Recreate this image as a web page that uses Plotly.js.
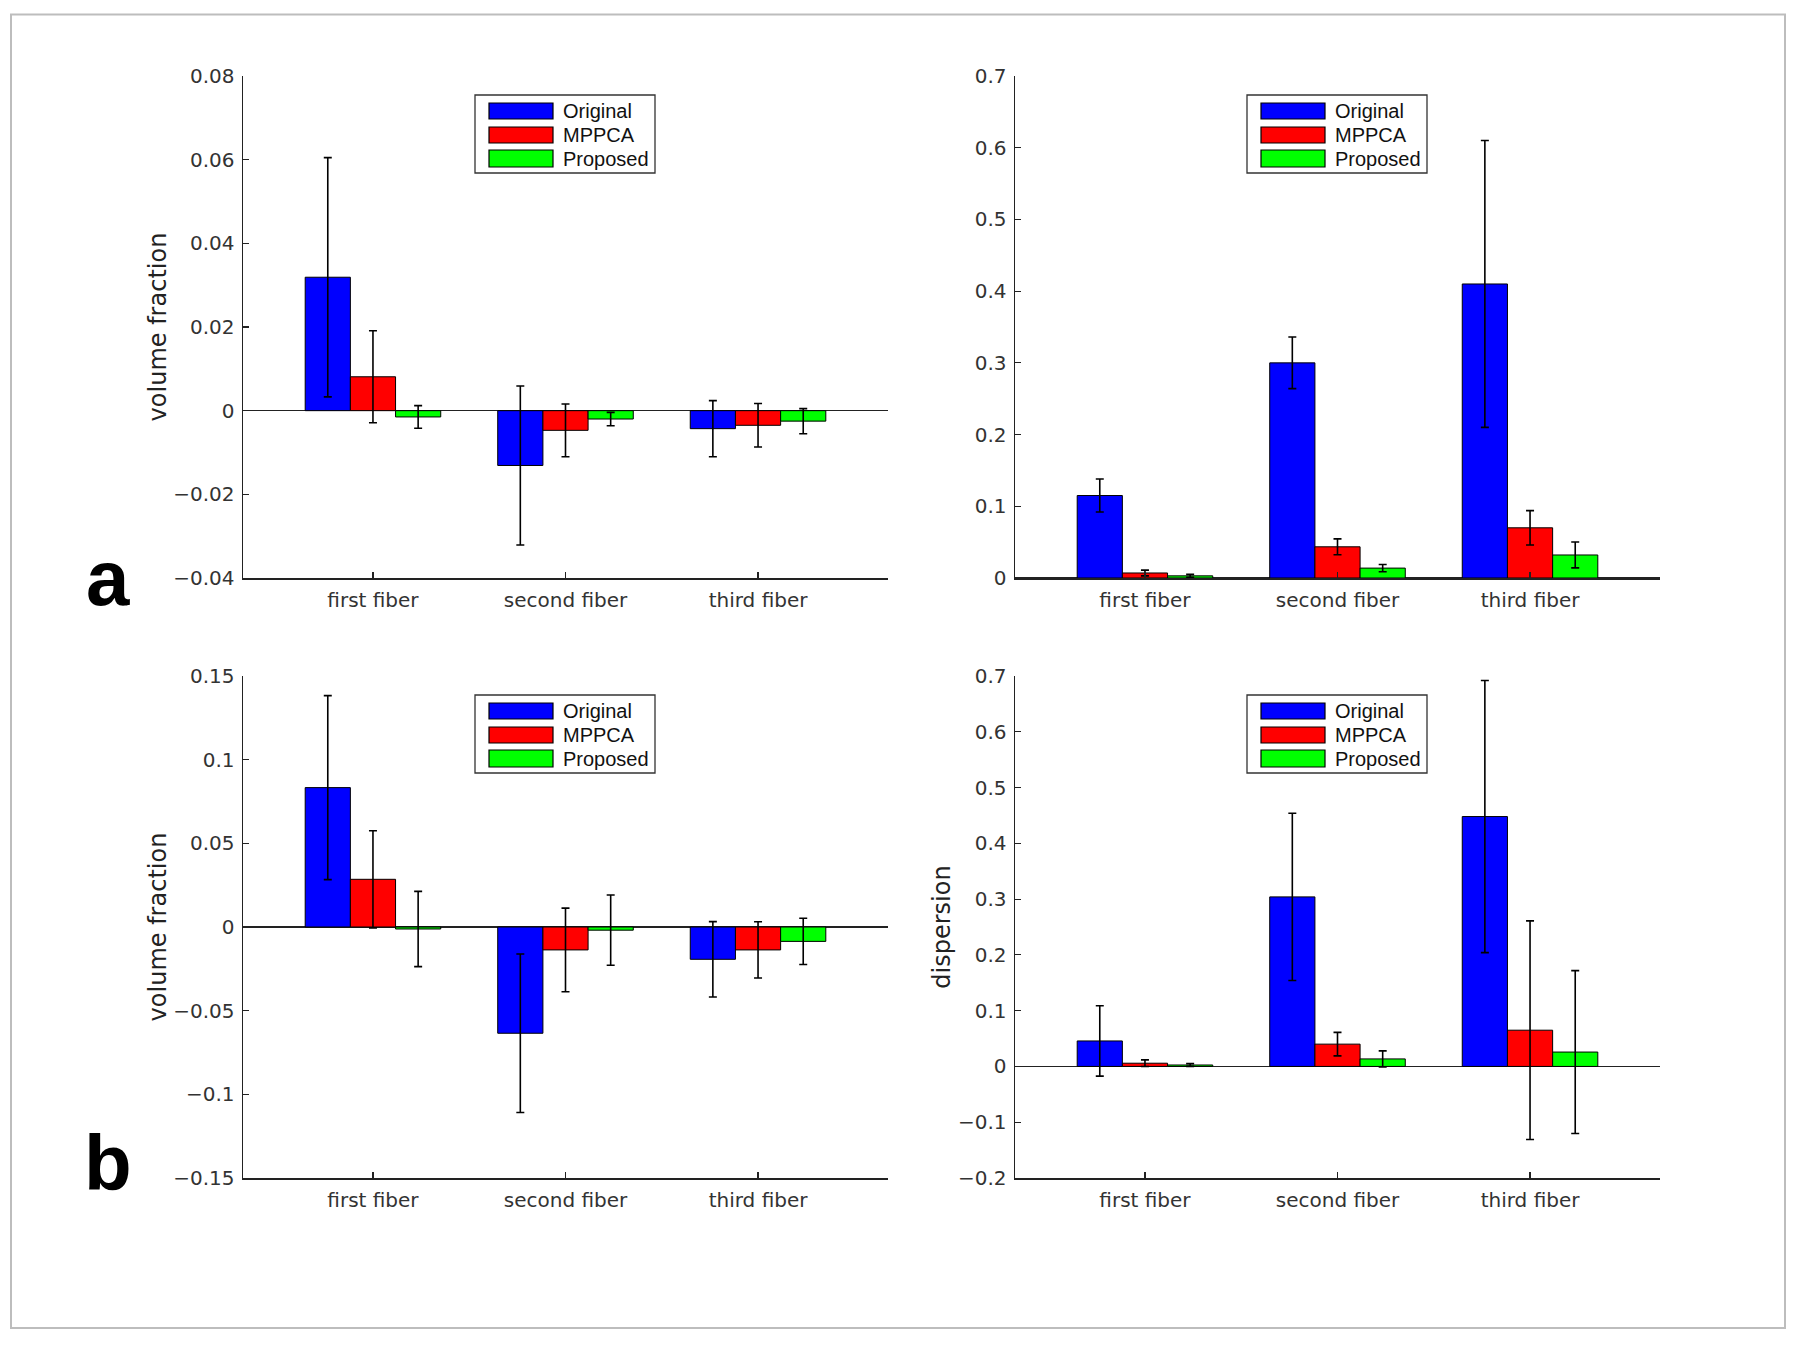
<!DOCTYPE html>
<html>
<head>
<meta charset="utf-8">
<script src="https://cdn.plot.ly/plotly-3.0.1.min.js"></script>
<style>
  html, body { margin: 0; padding: 0; background: #ffffff; }
  #chart { width: 1800px; height: 1345px; }
</style>
</head>
<body>
<div id="chart"></div>
<script>
// ---------- data ----------
const categories = ['first fiber', 'second fiber', 'third fiber'];
const methods = ['Original', 'MPPCA', 'Proposed'];
const methodColors = ['#0000ff', '#ff0000', '#00ff00'];

// panel a, left: volume fraction (mean per method, per fiber)
const aVfOriginal = [0.0319, -0.0131, -0.0043];
const aVfMPPCA = [0.0081, -0.0047, -0.0035];
const aVfProposed = [-0.0015, -0.0020, -0.0025];
const aVfOriginalErr = [0.0286, 0.0190, 0.0067];
const aVfMPPCAErr = [0.0110, 0.0063, 0.0052];
const aVfProposedErr = [0.0027, 0.0016, 0.0030];

// panel a, right: dispersion
const aDispOriginal = [0.115, 0.300, 0.410];
const aDispMPPCA = [0.0070, 0.0435, 0.0700];
const aDispProposed = [0.0030, 0.0138, 0.0321];
const aDispOriginalErr = [0.023, 0.036, 0.200];
const aDispMPPCAErr = [0.004, 0.011, 0.024];
const aDispProposedErr = [0.002, 0.005, 0.018];

// panel b, left: volume fraction
const bVfOriginal = [0.0833, -0.0635, -0.0193];
const bVfMPPCA = [0.0285, -0.0137, -0.0137];
const bVfProposed = [-0.0012, -0.0019, -0.0086];
const bVfOriginalErr = [0.0550, 0.0474, 0.0225];
const bVfMPPCAErr = [0.0290, 0.0250, 0.0168];
const bVfProposedErr = [0.0225, 0.0210, 0.0138];

// panel b, right: dispersion
const bDispOriginal = [0.0457, 0.304, 0.448];
const bDispMPPCA = [0.0058, 0.040, 0.065];
const bDispProposed = [0.0026, 0.0135, 0.0258];
const bDispOriginalErr = [0.063, 0.150, 0.244];
const bDispMPPCAErr = [0.006, 0.021, 0.196];
const bDispProposedErr = [0.0025, 0.0145, 0.146];

// axis labels
const yTitleVf = 'volume fraction';
const yTitleDisp = 'dispersion';
const panelLetters = ['a', 'b'];

// ---------- layout helpers ----------
const W = 1800, H = 1345;
const px = v => v / W;
const py = v => 1 - v / H;

const colL = [243, 888], colR = [1015, 1660];
const rowT = [76, 578], rowB = [676, 1178];

const panels = [
  { ax: '', col: colL, row: rowT, means: [aVfOriginal, aVfMPPCA, aVfProposed], errs: [aVfOriginalErr, aVfMPPCAErr, aVfProposedErr], range: [-0.04, 0.08], dtick: 0.02, title: yTitleVf },
  { ax: '2', col: colR, row: rowT, means: [aDispOriginal, aDispMPPCA, aDispProposed], errs: [aDispOriginalErr, aDispMPPCAErr, aDispProposedErr], range: [0, 0.7], dtick: 0.1, title: '' },
  { ax: '3', col: colL, row: rowB, means: [bVfOriginal, bVfMPPCA, bVfProposed], errs: [bVfOriginalErr, bVfMPPCAErr, bVfProposedErr], range: [-0.15, 0.15], dtick: 0.05, title: yTitleVf },
  { ax: '4', col: colR, row: rowB, means: [bDispOriginal, bDispMPPCA, bDispProposed], errs: [bDispOriginalErr, bDispMPPCAErr, bDispProposedErr], range: [-0.2, 0.7], dtick: 0.1, title: yTitleDisp }
];

const tickFont = { family: 'DejaVu Sans, Liberation Sans, sans-serif', size: 20, color: '#333' };
const traces = [];
const layout = {
  width: W, height: H,
  margin: { l: 0, r: 0, t: 0, b: 0, autoexpand: false },
  paper_bgcolor: '#ffffff', plot_bgcolor: 'rgba(0,0,0,0)',
  barmode: 'group', bargap: 0.296, bargroupgap: 0,
  showlegend: false,
  shapes: [], annotations: []
};

panels.forEach(p => {
  methods.forEach((m, i) => {
    traces.push({
      type: 'bar', name: m, x: categories, y: p.means[i],
      xaxis: 'x' + p.ax, yaxis: 'y' + p.ax,
      marker: { color: methodColors[i], line: { color: '#000', width: 1 } },
      error_y: { type: 'data', array: p.errs[i], visible: true, color: '#000', thickness: 1.6, width: 4 },
      hoverinfo: 'x+y+name'
    });
  });
  layout['xaxis' + p.ax] = {
    domain: [px(p.col[0]), px(p.col[1])], anchor: 'y' + p.ax,
    type: 'category', range: [-0.675, 2.675],
    showline: true, linecolor: '#222', linewidth: 1.5, mirror: false,
    ticks: 'inside', ticklen: 6, tickwidth: 1.2, tickcolor: '#222',
    showgrid: false, zeroline: false, tickfont: tickFont,
    ticklabelstandoff: 3, automargin: false, fixedrange: true
  };
  layout['yaxis' + p.ax] = {
    domain: [py(p.row[1]), py(p.row[0])], anchor: 'x' + p.ax,
    range: p.range, dtick: p.dtick, tick0: 0,
    showline: true, linecolor: '#222', linewidth: 1.5, mirror: false,
    ticks: 'inside', ticklen: 6, tickwidth: 1.2, tickcolor: '#222',
    showgrid: false, zeroline: true, zerolinecolor: '#222', zerolinewidth: 1.5,
    tickfont: tickFont, ticklabelstandoff: 3, automargin: false, fixedrange: true,
    title: { text: p.title, font: { family: 'DejaVu Sans, sans-serif', size: 24, color: '#222' }, standoff: 0 }
  };

  // legend box for this panel (MATLAB-style wide swatches)
  const L = p.col[0], T = p.row[0];
  layout.shapes.push({
    type: 'rect', xref: 'paper', yref: 'paper',
    x0: px(L + 232), x1: px(L + 412), y0: py(T + 97), y1: py(T + 19),
    line: { color: '#333', width: 1.3 }, fillcolor: '#ffffff', layer: 'above'
  });
  const rowsY = [[27, 43], [51, 67], [74, 91]];
  methods.forEach((m, i) => {
    layout.shapes.push({
      type: 'rect', xref: 'paper', yref: 'paper',
      x0: px(L + 246), x1: px(L + 310), y0: py(T + rowsY[i][1]), y1: py(T + rowsY[i][0]),
      line: { color: '#000', width: 1.2 }, fillcolor: methodColors[i], layer: 'above'
    });
    layout.annotations.push({
      xref: 'paper', yref: 'paper', x: px(L + 318), y: py(T + (rowsY[i][0] + rowsY[i][1]) / 2),
      xanchor: 'left', yanchor: 'middle', showarrow: false, text: m,
      font: { family: 'Liberation Sans, Arial, sans-serif', size: 20, color: '#111' }
    });
  });
});

// panel letters
layout.annotations.push({
  xref: 'paper', yref: 'paper', x: px(108), y: py(624), xanchor: 'center', yanchor: 'bottom',
  showarrow: false, text: '<b>' + panelLetters[0] + '</b>',
  font: { family: 'Liberation Sans, Arial, sans-serif', size: 78, color: '#000' }
});
layout.annotations.push({
  xref: 'paper', yref: 'paper', x: px(108), y: py(1209), xanchor: 'center', yanchor: 'bottom',
  showarrow: false, text: '<b>' + panelLetters[1] + '</b>',
  font: { family: 'Liberation Sans, Arial, sans-serif', size: 78, color: '#000' }
});

// outer frame
layout.shapes.push({
  type: 'rect', xref: 'paper', yref: 'paper',
  x0: px(11), x1: px(1785), y0: py(1328), y1: py(14.5),
  line: { color: '#bdbdbd', width: 2 }, fillcolor: 'rgba(0,0,0,0)', layer: 'below'
});

Plotly.newPlot('chart', traces, layout, { staticPlot: true, displayModeBar: false });
</script>
</body>
</html>
